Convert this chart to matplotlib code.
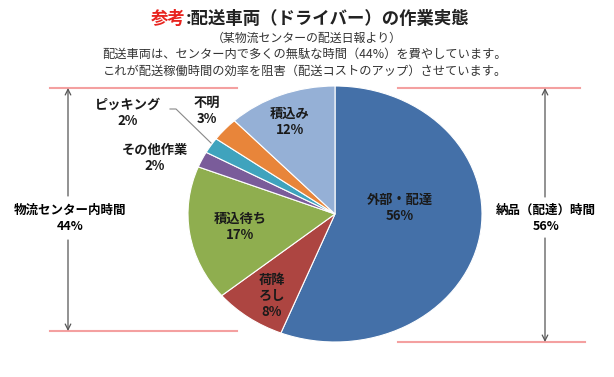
import matplotlib
matplotlib.use("Agg")
import matplotlib.pyplot as plt

plt.rcParams["font.family"] = ["Noto Sans CJK JP", "DejaVu Sans"]

# slices, clockwise from 12 o'clock
tasks = ["外部・配達", "荷降ろし", "積込待ち", "その他作業", "ピッキング", "不明", "積込み"]
shares = [56, 8, 17, 2, 2, 3, 12]
colors = ["#4470A8", "#AD4541", "#8FAE4F", "#7A5C9A", "#3FA3BD", "#E8853A", "#95B0D6"]

# label text as drawn on the chart
label_text = ["外部・配達\n56%", "荷降\nろし\n8%", "積込待ち\n17%", "その他作業\n2%",
              "ピッキング\n2%", "不明\n3%", "積込み\n12%"]
# label centres in pixels (layout)
label_xy = [(400, 208), (272, 296), (240, 227), (155, 158),
            (128, 113), (207, 111), (290, 122)]

in_center = ("物流センター内時間", 44)
delivery = ("納品（配達）時間", 56)

W, H = 614, 377
fig = plt.figure(figsize=(W / 100, H / 100), dpi=100)
fig.patch.set_facecolor("white")

# pie drawn in its own (slightly stretched) axes
cx, cy, rx, ry = 335, 214, 147, 128
pax = fig.add_axes([(cx - rx) / W, (H - cy - ry) / H, 2 * rx / W, 2 * ry / H])
pax.pie(shares, colors=colors, startangle=90, counterclock=False,
        wedgeprops=dict(edgecolor="white", linewidth=0.8))
pax.set_aspect("auto")
pax.set_xlim(-1, 1)
pax.set_ylim(-1, 1)
pax.axis("off")

# overlay in pixel coords for text, lines, arrows
ax = fig.add_axes([0, 0, 1, 1], facecolor="none")
ax.set_xlim(0, W)
ax.set_ylim(H, 0)
ax.axis("off")

ax.text(186, 19, "参考", color="#E8231E", fontsize=12.5, fontweight="bold",
        ha="right", va="center")
ax.text(186, 19, ":配送車両（ドライバー）の作業実態", color="#222222", fontsize=12.5,
        fontweight="bold", ha="left", va="center")
ax.text(307, 38, "（某物流センターの配送日報より）", fontsize=8.6, ha="center", va="center",
        color="#333333")
ax.text(305, 54, "配送車両は、センター内で多くの無駄な時間（44%）を費やしています。",
        fontsize=8.8, ha="center", va="center", color="#333333")
ax.text(305, 71, "これが配送稼働時間の効率を阻害（配送コストのアップ）させています。",
        fontsize=8.8, ha="center", va="center", color="#333333")

for txt, (x, y) in zip(label_text, label_xy):
    ax.text(x, y, txt, fontsize=9.5, fontweight="bold", ha="center", va="center",
            linespacing=1.15, color="#1a1a1a")

# leader line for ピッキング
ax.plot([170, 176, 211], [109, 109, 143], color="#888888", lw=0.8)

pink = "#F4A0A0"
ax.plot([50, 237], [88, 88], color=pink, lw=1.5)
ax.plot([50, 237], [331, 331], color=pink, lw=1.5)
ax.plot([398, 580], [88, 88], color=pink, lw=1.5)
ax.plot([398, 585], [342, 342], color=pink, lw=1.5)

arrow = dict(arrowstyle="->", color="#555555", lw=0.9, shrinkA=0, shrinkB=0)
ax.annotate("", xy=(68, 88), xytext=(68, 196), arrowprops=arrow)
ax.annotate("", xy=(68, 331), xytext=(68, 240), arrowprops=arrow)
ax.annotate("", xy=(545, 88), xytext=(545, 197), arrowprops=arrow)
ax.annotate("", xy=(545, 342), xytext=(545, 238), arrowprops=arrow)

ax.text(70, 218, f"{in_center[0]}\n{in_center[1]}%", fontsize=9, fontweight="bold",
        ha="center", va="center", linespacing=1.3)
ax.text(546, 218, f"{delivery[0]}\n{delivery[1]}%", fontsize=9, fontweight="bold",
        ha="center", va="center", linespacing=1.3)

fig.savefig("out.png", dpi=100)
